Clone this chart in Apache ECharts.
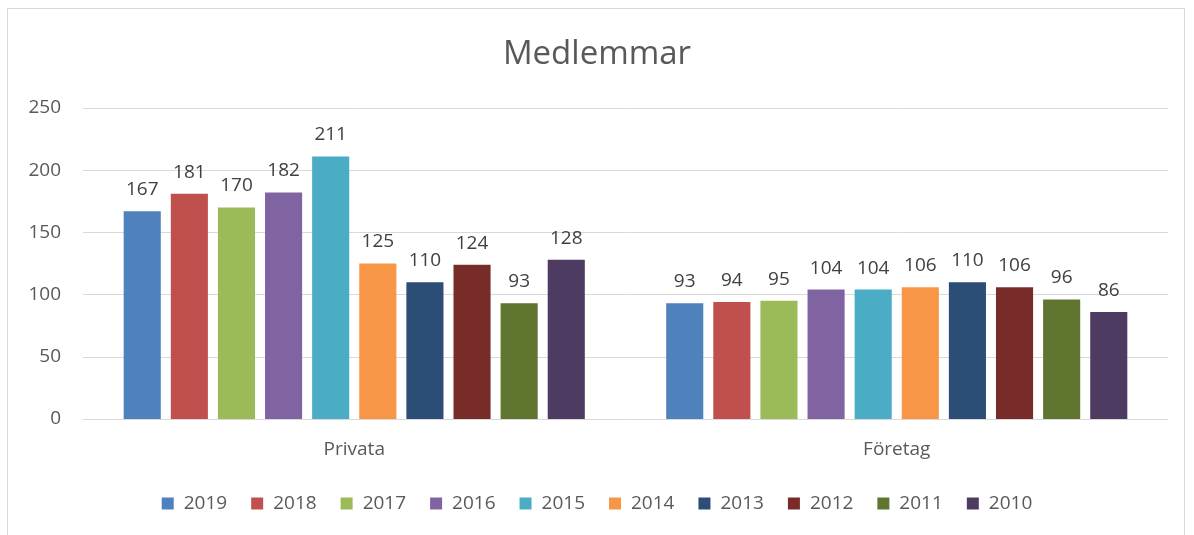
<!DOCTYPE html>
<html>
<head>
<meta charset="utf-8">
<script src="https://cdn.jsdelivr.net/npm/echarts@6/dist/echarts.min.js"></script>
<style>
  html, body { margin: 0; padding: 0; background: #fff; }
  #chart { width: 1194px; height: 535px; }
  .frame { position: absolute; left: 7px; top: 8px; width: 1178px; height: 540px; border: 1px solid #d9d9d9; box-sizing: border-box; pointer-events: none; }
</style>
</head>
<body>
<div class="frame"></div>
<div id="chart"></div>
<script>
const categories = ['Privata', 'Företag']
const years = ['2019', '2018', '2017', '2016', '2015', '2014', '2013', '2012', '2011', '2010']
const privata = [167, 181, 170, 182, 211, 125, 110, 124, 93, 128]
const foretag = [93, 94, 95, 104, 104, 106, 110, 106, 96, 86]
const colors = ['#4f81bd', '#c0504d', '#9bbb59', '#8064a2', '#4bacc6', '#f79646', '#2c4d75', '#772c2a', '#5f7530', '#4d3b62']

const font = '"Open Sans", "Noto Sans", sans-serif'

const chart = echarts.init(document.getElementById('chart'), null, { renderer: 'canvas' })

const series = years.map((y, i) => ({
  name: y,
  type: 'bar',
  data: [privata[i], foretag[i]],
  itemStyle: { color: colors[i] },
  barGap: '27%',
  barCategoryGap: '15%',
  label: {
    show: true,
    position: 'top',
    distance: 12,
    color: '#404040',
    fontSize: 19,
    fontFamily: font
  }
}))

chart.setOption({
  animation: false,
  color: colors,
  title: {
    text: 'Medlemmar',
    left: 'center',
    top: 33,
    textStyle: { color: '#595959', fontSize: 33, fontWeight: 'normal', fontFamily: font }
  },
  legend: {
    bottom: 17,
    left: 'center',
    itemWidth: 12,
    itemHeight: 12,
    itemGap: 24,
    icon: 'rect',
    textStyle: { color: '#595959', fontSize: 19, fontFamily: font, padding: [0, 0, 0, 5] }
  },
  grid: { left: 83, right: 26, top: 108, bottom: 116, containLabel: false },
  xAxis: {
    type: 'category',
    data: categories,
    axisLine: { lineStyle: { color: '#d9d9d9', width: 1 } },
    axisTick: { show: false },
    axisLabel: { color: '#595959', fontSize: 19, margin: 21, fontFamily: font }
  },
  yAxis: {
    type: 'value',
    min: 0,
    max: 250,
    interval: 50,
    axisLine: { show: false },
    axisTick: { show: false },
    splitLine: { lineStyle: { color: '#d9d9d9', width: 1 } },
    axisLabel: { color: '#595959', fontSize: 19, margin: 22, fontFamily: font }
  },
  series: series
})
</script>
</body>
</html>
